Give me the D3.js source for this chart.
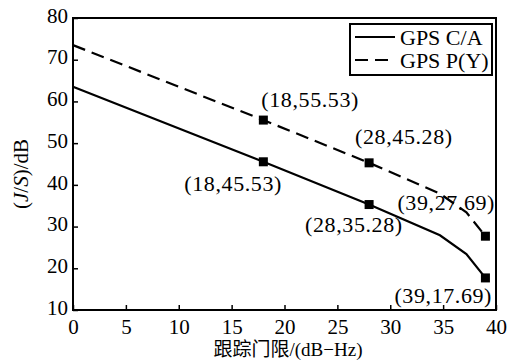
<!DOCTYPE html>
<html>
<head>
<meta charset="utf-8">
<script src="https://cdn.jsdelivr.net/npm/d3@7"></script>
<style>
body { margin: 0; background: #fff; }
svg text { font-family: "Liberation Serif", "Times New Roman", "Noto Sans CJK SC", serif; fill: #000; }
</style>
</head>
<body>
<svg id="chart"></svg>
<script>
// tracking threshold (dB-Hz) vs J/S (dB)
var threshold = [0, 18, 28, 34.7, 37.2, 39];
var caValues = [63.5, 45.53, 35.28, 27.9, 23.4, 17.69];
var pyValues = [73.5, 55.53, 45.28, 37.9, 33.4, 27.69];

var markX = [18, 28, 39];
var caMarks = [45.53, 35.28, 17.69];
var pyMarks = [55.53, 45.28, 27.69];

var xTicks = [0, 5, 10, 15, 20, 25, 30, 35, 40];
var yTicks = [10, 20, 30, 40, 50, 60, 70, 80];

var seriesNames = ["GPS C/A", "GPS P(Y)"];

var W = 508, H = 362;
var pLeft = 73, pRight = 496, pTop = 18, pBottom = 310;
var serif = "'Liberation Serif', 'Times New Roman', 'Noto Sans CJK SC', serif";

var svg = d3.select("#chart").attr("width", W).attr("height", H);

var x = d3.scaleLinear().domain([0, 40]).range([pLeft, pRight]);
var y = d3.scaleLinear().domain([10, 80]).range([pBottom, pTop]);

// frame
svg.append("rect")
    .attr("x", pLeft).attr("y", pTop)
    .attr("width", pRight - pLeft).attr("height", pBottom - pTop)
    .attr("fill", "none").attr("stroke", "#000").attr("stroke-width", 2);

var xAxis = svg.append("g")
    .attr("transform", "translate(0," + pBottom + ")")
    .call(d3.axisBottom(x).tickValues(xTicks).tickSizeInner(-5).tickSizeOuter(0).tickPadding(9));
var yAxis = svg.append("g")
    .attr("transform", "translate(" + pLeft + ",0)")
    .call(d3.axisLeft(y).tickValues(yTicks).tickSizeInner(-5).tickSizeOuter(0).tickPadding(5));

[xAxis, yAxis].forEach(function(a){
    a.attr("font-family", null).attr("font-size", null);
    a.select(".domain").remove();
    a.selectAll("line").attr("stroke", "#000").attr("stroke-width", 1.5);
    a.selectAll("text").style("font-family", serif).style("font-size", "21px").attr("fill", "#000");
});
yAxis.selectAll("text").attr("dy", "0.2em");

// axis titles
svg.append("text")
    .attr("x", 288).attr("y", 356)
    .attr("text-anchor", "middle")
    .style("font-family", serif)
    .style("font-size", "19px")
    .text("跟踪门限/(dB−Hz)");

var yt = svg.append("text")
    .attr("transform", "translate(28,174) rotate(-90)")
    .attr("text-anchor", "middle")
    .style("font-family", serif)
    .style("font-size", "21px");
yt.append("tspan").text("(");
yt.append("tspan").style("font-style", "italic").text("J");
yt.append("tspan").text("/");
yt.append("tspan").style("font-style", "italic").text("S");
yt.append("tspan").text(")/dB");

// lines
var line = d3.line()
    .x(function(d){ return x(d[0]); })
    .y(function(d){ return y(d[1]); });

var caData = threshold.map(function(t, i){ return [t, caValues[i]]; });
var pyData = threshold.map(function(t, i){ return [t, pyValues[i]]; });

svg.append("path")
    .attr("d", line(caData))
    .attr("fill", "none").attr("stroke", "#000").attr("stroke-width", 2.2);

svg.append("path")
    .attr("d", line(pyData))
    .attr("fill", "none").attr("stroke", "#000").attr("stroke-width", 2.2)
    .attr("stroke-dasharray", "13,7");

// markers
var marks = markX.map(function(t, i){ return [t, caMarks[i]]; })
    .concat(markX.map(function(t, i){ return [t, pyMarks[i]]; }));

svg.selectAll(".mark")
    .data(marks)
    .enter().append("rect")
    .attr("class", "mark")
    .attr("x", function(d){ return x(d[0]) - 4.5; })
    .attr("y", function(d){ return y(d[1]) - 4.5; })
    .attr("width", 9).attr("height", 9)
    .attr("fill", "#000");

// point labels, offsets relative to the marker
var labelOffsets = [
    [-79, 29], [-64, 27], [-91, 25],   // C/A
    [-2, -13], [-14, -19], [-88, -26]  // P(Y)
];

svg.selectAll(".plabel")
    .data(marks)
    .enter().append("text")
    .attr("class", "plabel")
    .attr("x", function(d, i){ return x(d[0]) + labelOffsets[i][0]; })
    .attr("y", function(d, i){ return y(d[1]) + labelOffsets[i][1]; })
    .style("font-family", serif)
    .style("font-size", "22px")
    .attr("textLength", 97)
    .text(function(d){ return "(" + d[0] + "," + d[1].toFixed(2) + ")"; });

// legend
var lg = svg.append("g").attr("transform", "translate(350,24)");
lg.append("rect")
    .attr("width", 142).attr("height", 51)
    .attr("fill", "#fff").attr("stroke", "#000").attr("stroke-width", 2);

lg.selectAll(".lline")
    .data(seriesNames)
    .enter().append("line")
    .attr("x1", 5).attr("x2", 45)
    .attr("y1", function(d, i){ return 13 + i * 23; })
    .attr("y2", function(d, i){ return 13 + i * 23; })
    .attr("stroke", "#000").attr("stroke-width", 2.2)
    .attr("stroke-dasharray", function(d, i){ return i ? "13,7" : null; });

lg.selectAll(".ltext")
    .data(seriesNames)
    .enter().append("text")
    .attr("x", 50)
    .attr("y", function(d, i){ return 21 + i * 23; })
    .style("font-family", serif)
    .style("font-size", "22px")
    .text(function(d){ return d; });
</script>
</body>
</html>
